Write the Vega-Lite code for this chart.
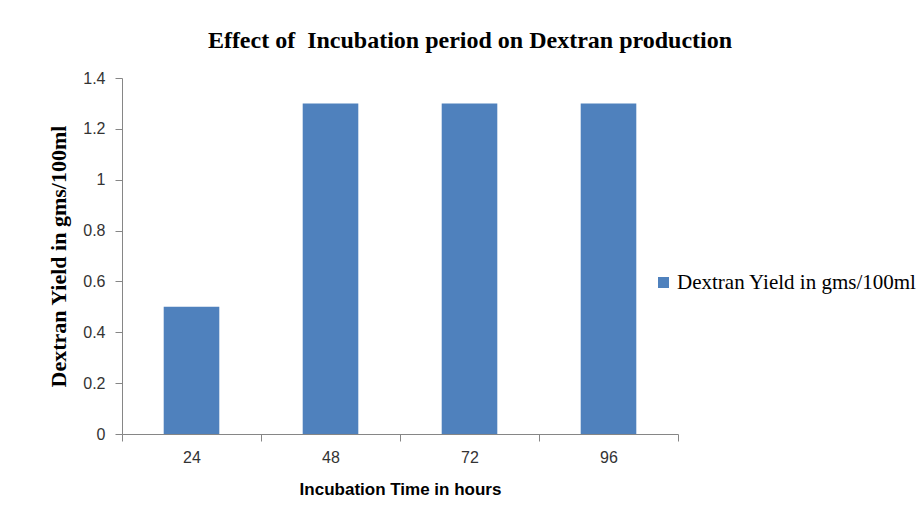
{
  "$schema": "https://vega.github.io/schema/vega-lite/v6.json",
  "width": 556,
  "height": 356,
  "autosize": "none",
  "padding": {"left": 122, "top": 78, "right": 243, "bottom": 74},
  "background": "white",
  "title": {
    "text": "Effect of \u00a0Incubation period on Dextran production",
    "font": "Liberation Serif",
    "fontSize": 24,
    "fontWeight": "bold",
    "color": "#000000",
    "anchor": "middle",
    "dx": 70,
    "offset": 17
  },
  "data": {
    "values": [
      {"hours": "24", "yield": 0.5, "series": "Dextran Yield in gms/100ml"},
      {"hours": "48", "yield": 1.3, "series": "Dextran Yield in gms/100ml"},
      {"hours": "72", "yield": 1.3, "series": "Dextran Yield in gms/100ml"},
      {"hours": "96", "yield": 1.3, "series": "Dextran Yield in gms/100ml"}
    ]
  },
  "mark": {"type": "bar", "width": {"band": 0.4}},
  "encoding": {
    "x": {
      "field": "hours",
      "type": "ordinal",
      "scale": {"paddingInner": 0, "paddingOuter": 0},
      "axis": {
        "title": "Incubation Time in hours",
        "titleFont": "Liberation Sans",
        "titleFontSize": 17,
        "titleFontWeight": "bold",
        "titleColor": "#000000",
        "titlePadding": 16,
        "labelAngle": 0,
        "labelFont": "Liberation Sans",
        "labelFontSize": 16,
        "labelColor": "#333333",
        "labelPadding": 8,
        "tickBand": "extent",
        "tickSize": 7,
        "tickColor": "#868686",
        "domainColor": "#868686",
        "grid": false
      }
    },
    "y": {
      "field": "yield",
      "type": "quantitative",
      "scale": {"domain": [0, 1.4], "nice": false},
      "axis": {
        "title": "Dextran Yield in gms/100ml",
        "titleFont": "Liberation Serif",
        "titleFontSize": 22,
        "titleFontWeight": "bold",
        "titleColor": "#000000",
        "titlePadding": 12,
        "values": [0, 0.2, 0.4, 0.6, 0.8, 1, 1.2, 1.4],
        "format": "~g",
        "labelFont": "Liberation Sans",
        "labelFontSize": 16,
        "labelColor": "#333333",
        "labelPadding": 10,
        "tickSize": 7,
        "tickColor": "#868686",
        "domainColor": "#868686",
        "grid": false
      }
    },
    "color": {
      "field": "series",
      "type": "nominal",
      "scale": {"range": ["#4f81bd"]},
      "legend": {
        "title": null,
        "orient": "none",
        "legendX": 531,
        "legendY": 194,
        "symbolType": "square",
        "symbolSize": 121,
        "symbolStrokeWidth": 0,
        "symbolOpacity": 1,
        "labelFont": "Liberation Serif",
        "labelFontSize": 21,
        "labelColor": "#000000",
        "labelOffset": 3,
        "labelLimit": 400,
        "padding": 0
      }
    }
  },
  "config": {"view": {"stroke": null}}
}
